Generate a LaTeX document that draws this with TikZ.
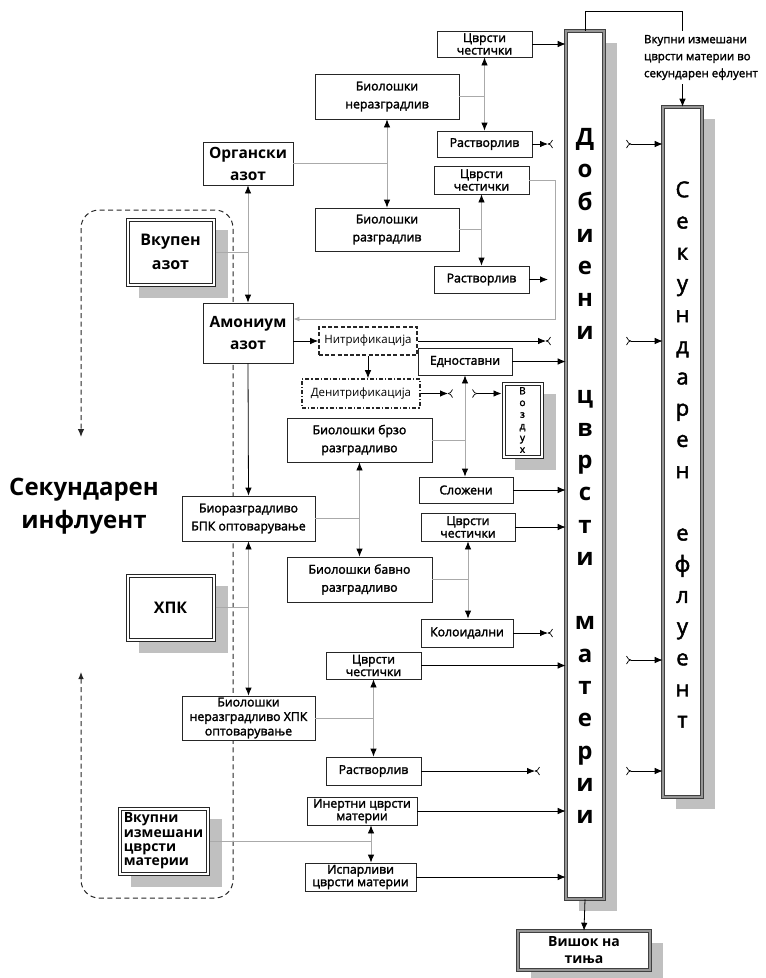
\documentclass[tikz,border=0pt]{standalone}
\usepackage{fontspec}
\setmainfont{Open Sans}
\newfontfamily\semibf{Open Sans}[FakeBold=2]
\usepackage{tikz}
\usetikzlibrary{positioning, calc, arrows.meta, shadows}

\definecolor{lineGray}{RGB}{170,170,170}
\definecolor{shadowGray}{RGB}{192,192,192}
\definecolor{frameGray}{RGB}{150,150,150}

% small "cut" marks at the loose ends of the outflow arrows
\tikzset{
  cutend/.pic={
    \draw[line width=0.7pt] (0,0) .. controls (2,0) and (3,-1) .. (4.5,-4);
    \draw[line width=0.7pt] (0,0) .. controls (2,0) and (3,1) .. (4.5,4);
  },
  cutstart/.pic={
    \draw[line width=0.7pt] (0,0) .. controls (-2,0) and (-3,-1) .. (-4.5,-4);
    \draw[line width=0.7pt] (0,0) .. controls (-2,0) and (-3,1) .. (-4.5,4);
  }
}

\begin{document}
\begin{tikzpicture}[
    x=1pt, y=-1pt,
    box/.style={rectangle, draw=black!85, line width=0.8pt, fill=white,
                inner sep=0pt, align=center,
                font=\semibf\fontsize{12.3}{12.5}\selectfont},
    widebox/.style={box, font=\semibf\fontsize{12.3}{18}\selectfont},
    nbox/.style={box, font=\bfseries\fontsize{15.5}{22}\selectfont},
    procbox/.style={box, line width=1.6pt, dash pattern=on 4pt off 2.2pt,
                    font=\fontsize{11.5}{12}\selectfont},
    inbox/.style={rectangle, draw=black!85, line width=1pt, fill=white,
                  inner sep=0pt, align=center,
                  font=\bfseries\fontsize{16}{24}\selectfont,
                  path picture={
                    \draw[black!85, line width=0.6pt]
                      ([xshift=2.8pt,yshift=-2.8pt]path picture bounding box.north west)
                      rectangle ([xshift=-2.8pt,yshift=2.8pt]path picture bounding box.south east);
                  },
                  drop shadow={shadow xshift=13pt, shadow yshift=-12pt,
                               fill=shadowGray, opacity=1}},
    barbox/.style={rectangle, draw=black!75, line width=0.6pt, double=frameGray,
                   double distance=2pt, fill=white, inner sep=0pt, align=center,
                   drop shadow={shadow xshift=13pt, shadow yshift=-12pt,
                                fill=shadowGray, opacity=1}},
    arrow/.style={-{Latex[length=8pt,width=6.5pt]}, line width=0.8pt},
    bidir/.style={{Latex[length=8pt,width=6.5pt,color=black]}-{Latex[length=8pt,width=6.5pt,color=black]},
                  draw=lineGray, line width=0.8pt},
    feed/.style={draw=lineGray, line width=0.8pt},
    loopline/.style={draw=black!85, line width=1pt, dash pattern=on 5pt off 3.5pt,
                     rounded corners=18pt},
  ]
    \useasboundingbox (0,0) rectangle (766,978);

    % dashed loop of the secondary influent
    \draw[loopline, {Latex[length=7pt,width=5.5pt]}-{Latex[length=8pt,width=6.5pt]}]
      (81,672) |- (233,898) -- (233,210) -| (81,437);

    \node[font=\bfseries\fontsize{24}{33}\selectfont, align=center] (INFL)
      at (84,506) {Секундарен\\инфлуент};

    % collecting bars
    \node[barbox, minimum width=38pt, minimum height=868pt] (BAR) at (585,465) {};
    \node[font=\bfseries\fontsize{24}{32.3}\selectfont, align=center] (BAR_TXT)
      at (585,476) {Д\\о\\б\\и\\е\\н\\и\\~\\ц\\в\\р\\с\\т\\и\\~\\м\\а\\т\\е\\р\\и\\и};

    \node[barbox, minimum width=39pt, minimum height=690pt] (EFF) at (682.5,452) {};
    \node[font=\semibf\fontsize{22}{31.2}\selectfont, align=center] (EFF_TXT)
      at (682.5,454.5) {С\\е\\к\\у\\н\\д\\а\\р\\е\\н\\~\\е\\ф\\л\\у\\е\\н\\т};

    \node[font=\semibf\fontsize{11.5}{17}\selectfont, align=left, inner sep=4pt] (TSS_LBL)
      at (701,57.5) {Вкупни измешани\\цврсти материи во\\секундарен ефлуент};

    \node[barbox, font=\bfseries\fontsize{14}{17}\selectfont,
          minimum width=132pt, minimum height=39pt] (SLUDGE) at (584,950.5) {Вишок на\\тиња};

    % influent parameters
    \node[inbox, minimum width=89pt, minimum height=68pt] (TOT_N) at (170.5,252) {Вкупен\\азот};
    \node[inbox, minimum width=89pt, minimum height=67pt] (COD) at (170.5,607.5) {ХПК};
    \node[inbox, align=left, font=\bfseries\fontsize{14}{14.3}\selectfont,
          minimum width=91pt, minimum height=68pt] (TSS) at (163.5,841)
          {Вкупни\\измешани\\цврсти\\материи};

    % nitrogen
    \node[nbox, minimum width=90pt, minimum height=43pt] (ORG_N) at (248,163.5) {Органски\\азот};
    \node[nbox, minimum width=90pt, minimum height=60pt] (NH4) at (248,333) {Амониум\\азот};

    \node[widebox, minimum width=144pt, minimum height=45pt] (NONBIO) at (387,96.5) {Биолошки\\неразградлив};
    \node[widebox, minimum width=144pt, minimum height=43pt] (BIO) at (387,229.5) {Биолошки\\разградлив};

    \node[box, minimum width=95pt, minimum height=26pt] (PART1) at (484.5,44) {Цврсти\\честички};
    \node[box, minimum width=95pt, minimum height=26pt] (SOL1) at (484.5,144) {Растворлив};
    \node[box, minimum width=95pt, minimum height=28pt] (PART2) at (481.5,180) {Цврсти\\честички};
    \node[box, minimum width=95pt, minimum height=27pt] (SOL2) at (481.5,279.5) {Растворлив};

    \node[procbox, minimum width=98pt, minimum height=28pt] (NITR) at (368,341) {Нитрификација};
    \node[procbox, dash pattern=on 4pt off 2pt on 1.2pt off 2pt,
          minimum width=118pt, minimum height=29pt] (DENITR) at (361,393.5) {Денитрификација};

    \node[inbox, font=\semibf\fontsize{10}{11.7}\selectfont,
          minimum width=41pt, minimum height=76pt] (AIR) at (522.5,420) {В\\о\\з\\д\\у\\х};

    % BOD
    \node[box, minimum width=94pt, minimum height=27pt] (SIMPLE) at (465,361.5) {Едноставни};
    \node[widebox, minimum width=145pt, minimum height=44pt] (FAST) at (359.5,440) {Биолошки брзо\\разградливо};
    \node[box, minimum width=94pt, minimum height=26pt] (COMPLEX) at (466,490) {Сложени};
    \node[box, minimum width=94pt, minimum height=28pt] (PART3) at (468,527) {Цврсти\\честички};
    \node[widebox, minimum width=133pt, minimum height=45pt] (BOD) at (248.5,518.5) {Биоразградливо\\БПК оптоварување};
    \node[widebox, minimum width=145pt, minimum height=45pt] (SLOW) at (359.5,579.5) {Биолошки бавно\\разградливо};
    \node[box, minimum width=92pt, minimum height=28pt] (COLL) at (467,633) {Колоидални};

    % non-biodegradable COD
    \node[box, font=\semibf\fontsize{12.3}{14.5}\selectfont,
          minimum width=133pt, minimum height=44pt] (NBCOD) at (248.5,718) {Биолошки\\неразградливо ХПК\\оптоварување};
    \node[box, minimum width=95pt, minimum height=27pt] (PART4) at (373.5,665.5) {Цврсти\\честички};
    \node[box, minimum width=95pt, minimum height=28pt] (SOL3) at (373.5,771) {Растворлив};

    % suspended solids
    \node[box, minimum width=110pt, minimum height=28pt] (INERT) at (362,811) {Инертни цврсти\\материи};
    \node[box, minimum width=111pt, minimum height=28pt] (VOLAT) at (360.5,877) {Испарливи\\цврсти материи};

    % free ends
    \coordinate (SS_COL) at (371,0);
    \coordinate (RET) at (555,319);
    \coordinate (SOL1_END) at (548,144);
    \coordinate (SOL2_END) at (548,279.5);
    \coordinate (NITR_END) at (546,341);
    \coordinate (DEN_END) at (448,393.5);
    \coordinate (DEN_START) at (477,393.5);
    \coordinate (COLL_END) at (548,633);
    \coordinate (SOL3_END) at (535,771);
    \coordinate (IN1) at (631,144);
    \coordinate (IN2) at (631,341);
    \coordinate (IN3) at (631,660);
    \coordinate (IN4) at (631,771);

    % splits
    \draw[feed] (ORG_N.east) -- (ORG_N.east -| NONBIO.south);
    \draw[bidir] (NONBIO.south) -- (BIO.north);
    \draw[feed] (NONBIO.east) -- (NONBIO.east -| PART1.south);
    \draw[bidir] (PART1.south) -- (SOL1.north);
    \draw[feed] (BIO.east) -- (BIO.east -| PART2.south);
    \draw[bidir] (PART2.south) -- (SOL2.north);
    \draw[feed] (TOT_N.east) -- (TOT_N.east -| ORG_N.south);
    \draw[bidir] (ORG_N.south) -- (NH4.north);
    \draw[feed, -{Latex[length=6pt,width=5pt]}] (PART2.east) -| (RET) -- (RET -| NH4.east);

    \draw[arrow] (NITR.west -| NH4.east) -- (NITR.west);
    \draw[arrow] (NITR.south) -- (NITR.south |- DENITR.north);
    \draw[arrow] (NH4.south) -- (BOD.north);

    \draw[feed] (FAST.east) -- (FAST.east -| SIMPLE.south);
    \draw[bidir] (SIMPLE.south) -- (SIMPLE.south |- COMPLEX.north);
    \draw[feed] (BOD.east) -- (BOD.east -| FAST.south);
    \draw[bidir] (FAST.south) -- (SLOW.north);
    \draw[feed] (SLOW.east) -- (SLOW.east -| PART3.south);
    \draw[bidir] (PART3.south) -- (PART3.south |- COLL.north);

    \draw[feed] (COD.east) -- (COD.east -| BOD.south);
    \draw[bidir] (BOD.south) -- (NBCOD.north);
    \draw[feed] (NBCOD.east) -- (NBCOD.east -| PART4.south);
    \draw[bidir] (PART4.south) -- (SOL3.north);

    \draw[feed] (TSS.east) -- (TSS.east -| SS_COL);
    \draw[bidir] (INERT.south -| SS_COL) -- (VOLAT.north -| SS_COL);

    % outflows to the bar
    \foreach \src in {PART1, SIMPLE, COMPLEX, PART3, PART4, INERT, VOLAT}
      \draw[arrow] (\src.east) -- (\src.east -| BAR.west);

    \draw[arrow] (SOL1.east) -- (SOL1_END);
    \pic at (SOL1_END) {cutend};
    \draw[arrow] (SOL2.east) -- (SOL2_END);
    \draw[arrow] (NITR.east) -- (NITR_END);
    \pic at (NITR_END) {cutend};
    \draw[arrow] (DENITR.east) -- (DEN_END);
    \pic at (DEN_END) {cutend};
    \pic at (DEN_START) {cutstart};
    \draw[arrow] (DEN_START) -- (DEN_START -| AIR.west);
    \draw[arrow] (COLL.east) -- (COLL_END);
    \pic at (COLL_END) {cutend};
    \draw[arrow] (SOL3.east) -- (SOL3_END);
    \pic at (SOL3_END) {cutend};

    % inflows to the secondary effluent
    \foreach \src in {IN1, IN2, IN3, IN4} {
      \pic at (\src) {cutstart};
      \draw[arrow] (\src) -- (\src -| EFF.west);
    }

    \draw[line width=0.8pt] (BAR.north) -- ++(0,-19) -| (EFF.north |- TSS_LBL.north);
    \draw[arrow] (EFF.north |- TSS_LBL.south) -- (EFF.north);
    \draw[arrow] (BAR.south) -- (SLUDGE.north);
  \end{tikzpicture}
\end{document}
